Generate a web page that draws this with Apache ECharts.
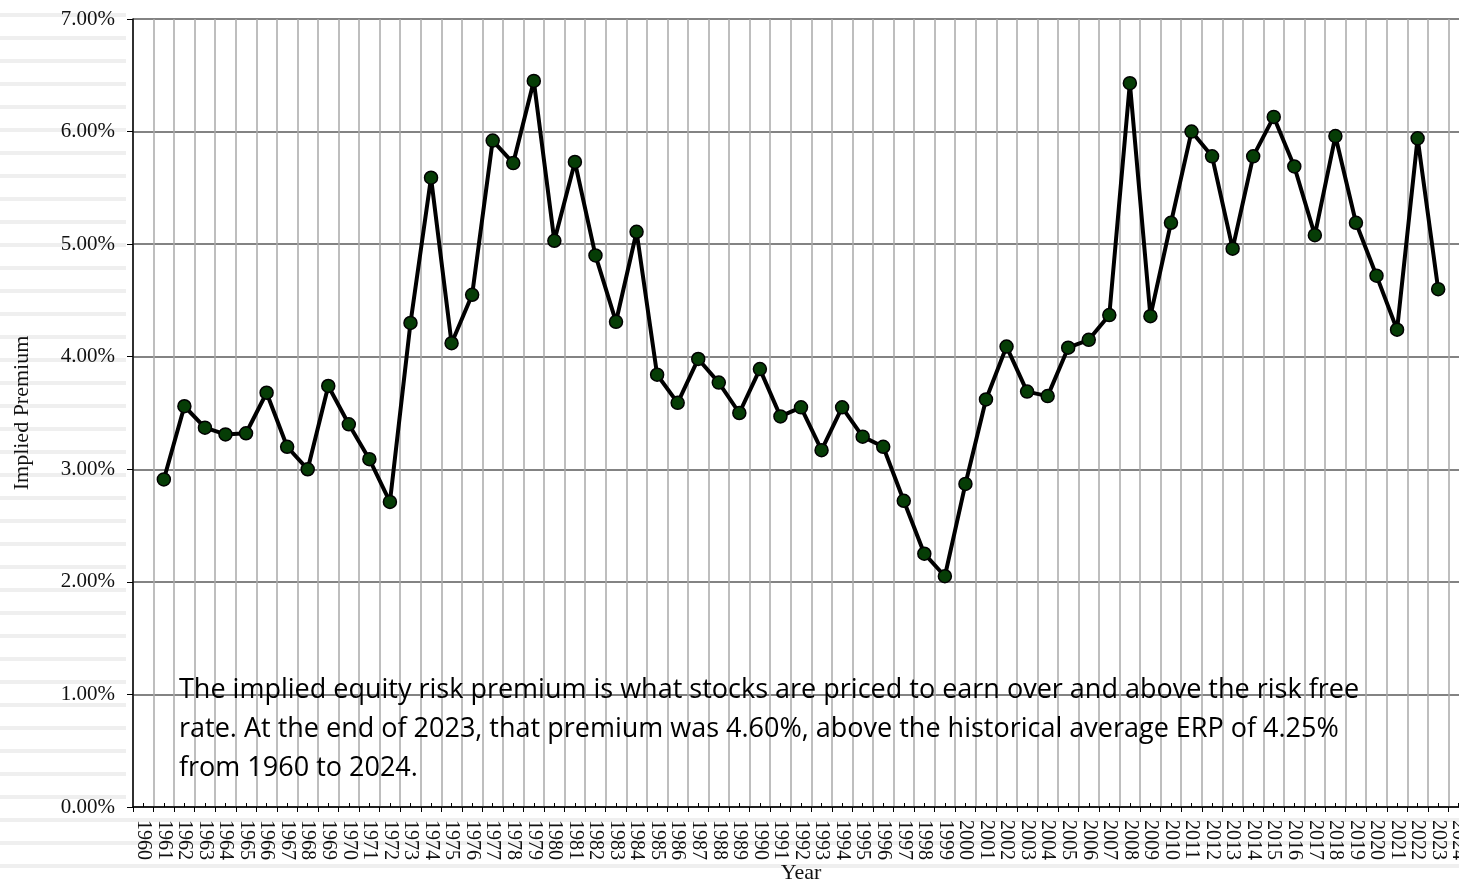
<!DOCTYPE html>
<html>
<head>
<meta charset="utf-8">
<title>Implied Premium</title>
<script src="https://cdn.jsdelivr.net/npm/echarts@6/dist/echarts.min.js"></script>
<style>
    html, body { margin: 0; padding: 0; background: #fff; }
    #chart { width: 1459px; height: 885px; }
</style>
</head>
<body>
<div id="chart"></div>
<script>
    // 年份（最后一个 2024 被图表右边截掉）
    const years = [];
    for (let y = 1960; y <= 2024; y++) years.push(String(y));

    // 隐含风险溢价 (%)，1960 与 2024 无数据
    const premium = [
        null, 2.91, 3.56, 3.37, 3.31, 3.32, 3.68, 3.20, 3.00, 3.74,
        3.40, 3.09, 2.71, 4.30, 5.59, 4.12, 4.55, 5.92, 5.72, 6.45,
        5.03, 5.73, 4.90, 4.31, 5.11, 3.84, 3.59, 3.98, 3.77, 3.50,
        3.89, 3.47, 3.55, 3.17, 3.55, 3.29, 3.20, 2.72, 2.25, 2.05,
        2.87, 3.62, 4.09, 3.69, 3.65, 4.08, 4.15, 4.37, 6.43, 4.36,
        5.19, 6.00, 5.78, 4.96, 5.78, 6.13, 5.69, 5.08, 5.96, 5.19,
        4.72, 4.24, 5.94, 4.60, null
    ];

    const note = 'The implied equity risk premium is what stocks are priced to earn over and above the risk free\n' +
        'rate. At the end of 2023, that premium was 4.60%, above the historical average ERP of 4.25%\n' +
        'from 1960 to 2024.';

    const serif = '"Liberation Serif", "DejaVu Serif", serif';

    // 背景条纹（截图里的浅灰横纹）
    const stripes = [];
    for (let y = 13; y < 885; y += 23) {
        const w = y < 812 ? 126 : 1459;
        stripes.push({ type: 'rect', left: 0, top: y, shape: { width: w, height: 4 }, style: { fill: '#efefef' }, z: -10 });
    }

    const myChart = echarts.init(document.getElementById('chart'));
    const option = {
        backgroundColor: '#fff',
        animation: false,
        grid: { left: 133, right: -10, top: 19, bottom: 78, containLabel: false, outerBoundsMode: 'none' },
        xAxis: [
            {
                type: 'category',
                data: years,
                boundaryGap: true,
                name: 'Year',
                nameLocation: 'middle',
                nameGap: 55,
                nameMoveOverlap: false,
                nameTextStyle: { fontFamily: serif, fontSize: 22, color: '#111' },
                axisLine: { lineStyle: { color: '#000', width: 1.5 } },
                axisTick: { show: true, length: 5, lineStyle: { color: '#000' } },
                axisLabel: {
                    rotate: -90,
                    interval: 0,
                    margin: 13,
                    fontFamily: serif,
                    fontSize: 20,
                    color: '#111'
                },
                splitLine: { show: true, interval: 0, lineStyle: { color: '#a8a8a8', width: 1.5 } }
            },
            {
                // 中间的小刻度
                type: 'category',
                data: years,
                position: 'bottom',
                boundaryGap: true,
                axisLine: { show: false },
                axisTick: { show: true, alignWithLabel: true, inside: true, length: 4, interval: 0, lineStyle: { color: '#000' } },
                axisLabel: { show: false },
                splitLine: { show: false }
            }
        ],
        yAxis: {
            type: 'value',
            min: 0,
            max: 7,
            interval: 1,
            name: 'Implied Premium',
            nameLocation: 'middle',
            nameGap: 100,
            nameTextStyle: { fontFamily: serif, fontSize: 22, color: '#111' },
            axisLine: { show: true, lineStyle: { color: '#000', width: 1.5 } },
            axisTick: { show: true, length: 6, lineStyle: { color: '#000' } },
            axisLabel: {
                margin: 18,
                fontFamily: serif,
                fontSize: 21,
                color: '#111',
                formatter: v => v.toFixed(2) + '%'
            },
            splitLine: { show: true, lineStyle: { color: '#5a5a5a', width: 1.5 } }
        },
        series: [
            {
                name: 'Implied Premium',
                type: 'line',
                data: premium,
                symbol: 'circle',
                symbolSize: 13,
                connectNulls: false,
                lineStyle: { color: '#000', width: 4 },
                itemStyle: { color: '#063d06', borderColor: '#000', borderWidth: 1.5 },
                z: 5
            }
        ],
        graphic: stripes.concat([
            {
                type: 'text',
                left: 179,
                top: 671,
                z: 20,
                style: {
                    text: note,
                    font: '27px "Open Sans", "Noto Sans", sans-serif',
                    fill: '#000',
                    lineHeight: 39
                }
            }
        ])
    };
    myChart.setOption(option);
</script>
</body>
</html>
